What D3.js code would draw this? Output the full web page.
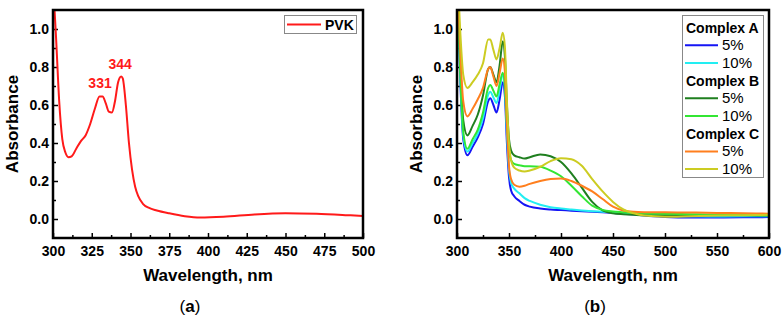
<!DOCTYPE html>
<html>
<head>
<meta charset="utf-8">
<script src="https://cdn.jsdelivr.net/npm/d3@7"></script>
<style>
  body { margin: 0; background: #fff; }
  text { font-family: "Liberation Sans", Arial, sans-serif; }
</style>
</head>
<body>
<script>
/*
*    absorbance spectra, panels (a) and (b)
*/

// panel (a) - PVK
var pvkWave = [300, 302, 304, 306, 308, 310, 312, 315, 318, 321, 324, 327, 330, 332, 334, 336, 338, 340, 342, 344, 345, 347, 349, 351, 353, 355, 358, 362, 367, 375, 385, 395, 410, 430, 450, 470, 490, 500];
var pvkAbs  = [1.25, 0.95, 0.62, 0.42, 0.35, 0.325, 0.33, 0.37, 0.41, 0.44, 0.50, 0.58, 0.645, 0.645, 0.61, 0.565, 0.56, 0.62, 0.72, 0.75, 0.74, 0.60, 0.40, 0.26, 0.17, 0.12, 0.08, 0.058, 0.045, 0.03, 0.015, 0.008, 0.012, 0.024, 0.03, 0.027, 0.02, 0.016];
var peakLabels = [{w: 331, a: 0.645, text: "331"}, {w: 344, a: 0.75, text: "344"}];

// panel (b) - complexes
var wave = [300, 303, 306, 310, 315, 320, 325, 330, 332, 335, 338, 341, 344, 346, 348, 350, 352, 355, 360, 365, 370, 380, 390, 400, 410, 420, 430, 440, 450, 460, 470, 480, 500, 525, 550, 575, 600];
var a5  = [1.3, 0.75, 0.42, 0.335, 0.38, 0.43, 0.50, 0.62, 0.635, 0.60, 0.56, 0.63, 0.72, 0.65, 0.40, 0.22, 0.15, 0.12, 0.095, 0.075, 0.065, 0.055, 0.05, 0.047, 0.044, 0.041, 0.038, 0.035, 0.032, 0.028, 0.024, 0.018, 0.011, 0.008, 0.008, 0.009, 0.01];
var a10 = [1.3, 0.78, 0.44, 0.355, 0.40, 0.45, 0.53, 0.655, 0.67, 0.64, 0.61, 0.68, 0.76, 0.69, 0.45, 0.26, 0.19, 0.16, 0.135, 0.11, 0.095, 0.075, 0.062, 0.055, 0.05, 0.045, 0.041, 0.038, 0.035, 0.031, 0.027, 0.023, 0.017, 0.014, 0.013, 0.014, 0.015];
var b5  = [1.3, 0.85, 0.52, 0.44, 0.49, 0.55, 0.65, 0.79, 0.80, 0.76, 0.72, 0.81, 0.935, 0.86, 0.60, 0.42, 0.36, 0.335, 0.325, 0.318, 0.325, 0.34, 0.33, 0.30, 0.24, 0.165, 0.09, 0.045, 0.03, 0.025, 0.022, 0.02, 0.02, 0.02, 0.02, 0.02, 0.018];
var b10 = [1.3, 0.80, 0.46, 0.37, 0.42, 0.47, 0.56, 0.69, 0.705, 0.675, 0.645, 0.71, 0.77, 0.70, 0.50, 0.36, 0.31, 0.29, 0.283, 0.278, 0.278, 0.275, 0.255, 0.225, 0.175, 0.12, 0.07, 0.048, 0.04, 0.036, 0.032, 0.03, 0.028, 0.025, 0.022, 0.021, 0.02];
var c5  = [1.3, 0.90, 0.62, 0.54, 0.58, 0.63, 0.69, 0.79, 0.80, 0.75, 0.70, 0.77, 0.845, 0.78, 0.50, 0.28, 0.21, 0.18, 0.17, 0.175, 0.185, 0.20, 0.21, 0.213, 0.20, 0.175, 0.145, 0.105, 0.065, 0.045, 0.038, 0.036, 0.035, 0.034, 0.032, 0.03, 0.028];
var c10 = [1.35, 1.0, 0.76, 0.69, 0.72, 0.76, 0.82, 0.945, 0.945, 0.89, 0.84, 0.90, 0.98, 0.91, 0.62, 0.40, 0.31, 0.27, 0.255, 0.25, 0.255, 0.275, 0.305, 0.32, 0.315, 0.28, 0.21, 0.145, 0.09, 0.05, 0.03, 0.018, 0.012, 0.015, 0.018, 0.02, 0.022];

var groups = ["Complex A", "Complex B", "Complex C"];
var concs = ["5%", "10%"];
var series = [
    {group: 0, conc: 0, values: a5,  color: "#1515f5"},
    {group: 0, conc: 1, values: a10, color: "#22eef2"},
    {group: 1, conc: 0, values: b5,  color: "#1f7f1f"},
    {group: 1, conc: 1, values: b10, color: "#33e633"},
    {group: 2, conc: 0, values: c5,  color: "#ff7f1e"},
    {group: 2, conc: 1, values: c10, color: "#cccc22"}
];

var yTicks = [0, 0.2, 0.4, 0.6, 0.8, 1.0];
var yMinor = [0.1, 0.3, 0.5, 0.7, 0.9];

var svg = d3.select("body").append("svg")
    .attr("width", 784)
    .attr("height", 319);

var plotTop = 10, plotBottom = 238;

var y = d3.scaleLinear().domain([-0.1, 1.1]).range([plotBottom, plotTop]);

function panel(opts) {
    var x = d3.scaleLinear().domain(opts.domain).range([opts.left, opts.right]);
    var g = svg.append("g");
    var clipId = "clip" + opts.id;

    g.append("clipPath").attr("id", clipId)
      .append("rect")
        .attr("x", opts.left).attr("y", plotTop)
        .attr("width", opts.right - opts.left).attr("height", plotBottom - plotTop);

    // axes, ticks inward
    g.append("g")
        .attr("transform", "translate(0," + plotBottom + ")")
        .call(d3.axisBottom(x).tickValues(opts.xTicks).tickSize(-5).tickSizeOuter(0).tickPadding(8));
    g.append("g")
        .attr("transform", "translate(0," + plotBottom + ")")
        .call(d3.axisBottom(x).tickValues(opts.xMinor).tickSize(-3).tickSizeOuter(0).tickFormat(""));
    g.append("g")
        .attr("transform", "translate(" + opts.left + ",0)")
        .call(d3.axisLeft(y).tickValues(yTicks).tickFormat(d3.format(".1f")).tickSize(-5).tickSizeOuter(0).tickPadding(4));
    g.append("g")
        .attr("transform", "translate(" + opts.left + ",0)")
        .call(d3.axisLeft(y).tickValues(yMinor).tickSize(-3).tickSizeOuter(0).tickFormat(""));

    g.selectAll(".domain").remove();
    g.selectAll(".tick line").attr("stroke", "#000").attr("stroke-width", 1.5);
    g.selectAll(".tick text")
        .attr("font-family", "Liberation Sans, Arial, sans-serif")
        .attr("font-size", 14)
        .attr("font-weight", "bold")
        .attr("fill", "#000");

    // lines
    var line = d3.line()
        .x((d) => x(d[0]))
        .y((d) => y(d[1]))
        .curve(d3.curveMonotoneX);

    opts.lines.forEach(function(s) {
        g.append("path")
            .attr("clip-path", "url(#" + clipId + ")")
            .attr("fill", "none")
            .attr("stroke", s.color)
            .attr("stroke-width", 2)
            .attr("d", line(opts.wave.map((w, i) => [w, s.values[i]])));
    });

    // frame
    g.append("rect")
        .attr("x", opts.left).attr("y", plotTop)
        .attr("width", opts.right - opts.left).attr("height", plotBottom - plotTop)
        .attr("fill", "none")
        .attr("stroke", "#000")
        .attr("stroke-width", 2.5);

    // axis titles
    g.append("text")
        .attr("x", (opts.left + opts.right) / 2)
        .attr("y", 281)
        .attr("text-anchor", "middle")
        .attr("font-size", 17)
        .attr("font-weight", "bold")
        .text("Wavelength, nm");
    g.append("text")
        .attr("transform", "rotate(-90)")
        .attr("x", -(plotTop + plotBottom) / 2)
        .attr("y", opts.left - 35)
        .attr("text-anchor", "middle")
        .attr("font-size", 17)
        .attr("font-weight", "bold")
        .text("Absorbance");

    // caption
    var cap = g.append("text")
        .attr("x", opts.captionX)
        .attr("y", 312)
        .attr("text-anchor", "middle")
        .attr("font-family", "Liberation Serif, Times New Roman, serif")
        .attr("font-size", 17);
    cap.append("tspan").text("(");
    cap.append("tspan").attr("font-weight", "bold").text(opts.caption);
    cap.append("tspan").text(")");

    return {g: g, x: x};
}

// panel (a)
var pa = panel({
    id: "a", left: 53, right: 363, domain: [300, 500],
    xTicks: d3.range(300, 501, 25), xMinor: d3.range(312.5, 500, 25),
    wave: pvkWave, lines: [{values: pvkAbs, color: "#ff1a1a"}],
    caption: "a", captionX: 190
});

pa.g.selectAll(".peak")
    .data(peakLabels)
    .enter().append("text")
        .attr("x", (d) => pa.x(d.w) - 1)
        .attr("y", (d) => y(d.a) - 8)
        .attr("text-anchor", "middle")
        .attr("font-size", 14)
        .attr("font-weight", "bold")
        .attr("fill", "#ff1a1a")
        .text((d) => d.text);

// legend (a)
var la = pa.g.append("g");
la.append("rect")
    .attr("x", 284.5).attr("y", 15.5).attr("width", 72).attr("height", 18)
    .attr("fill", "#fff").attr("stroke", "#888").attr("stroke-width", 1);
la.append("line")
    .attr("x1", 287).attr("x2", 321).attr("y1", 24.5).attr("y2", 24.5)
    .attr("stroke", "#ff1a1a").attr("stroke-width", 2);
la.append("text")
    .attr("x", 325).attr("y", 29.5)
    .attr("font-size", 14).attr("font-weight", "bold")
    .text("PVK");

// panel (b)
var pb = panel({
    id: "b", left: 457, right: 769, domain: [300, 600],
    xTicks: d3.range(300, 601, 50), xMinor: d3.range(325, 600, 50),
    wave: wave, lines: series,
    caption: "b", captionX: 595
});

// legend (b)
var lb = pb.g.append("g");
var rowStep = 17.7, rowTop = 27.5;
lb.append("rect")
    .attr("x", 682.5).attr("y", 15.5).attr("width", 81).attr("height", 162)
    .attr("fill", "#fff").attr("stroke", "#888").attr("stroke-width", 1);

groups.forEach(function(name, gi) {
    var cy = rowTop + gi * 3 * rowStep;
    lb.append("text")
        .attr("x", 686).attr("y", cy + 5)
        .attr("font-size", 14).attr("font-weight", "bold")
        .text(name);
});

series.forEach(function(s) {
    var cy = rowTop + (s.group * 3 + s.conc + 1) * rowStep;
    lb.append("line")
        .attr("x1", 685).attr("x2", 718).attr("y1", cy).attr("y2", cy)
        .attr("stroke", s.color).attr("stroke-width", 2);
    lb.append("text")
        .attr("x", 722).attr("y", cy + 5)
        .attr("font-size", 15)
        .text(concs[s.conc]);
});
</script>
</body>
</html>
